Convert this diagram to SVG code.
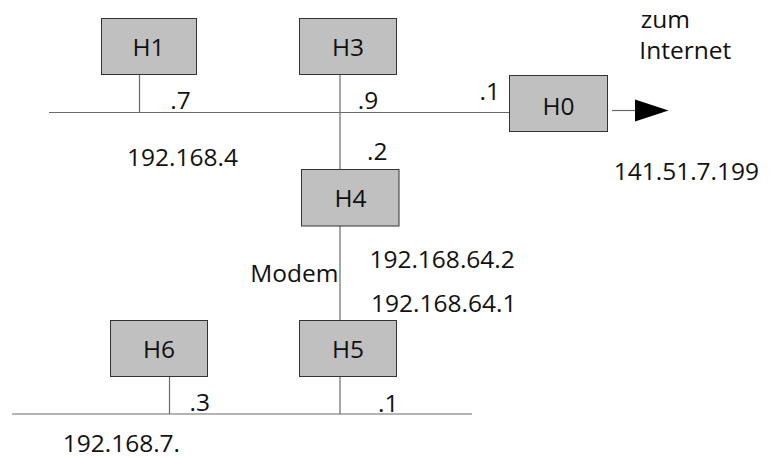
<svg xmlns="http://www.w3.org/2000/svg" width="775" height="459" viewBox="0 0 775 459">
<style>
.box{fill:#c0c0c0;stroke:#333;stroke-width:1}
.ln{stroke:#6a6a6a;stroke-width:1.2;fill:none}
text{font-family:"Open Sans","Noto Sans","Liberation Sans",sans-serif;font-size:24.5px;fill:#111}
.c{text-anchor:middle}
</style>
<rect width="775" height="459" fill="#fff"/>
<g id="connectors">
<line class="ln" x1="49" y1="112.5" x2="509.5" y2="112.5"/>
<line class="ln" x1="139.5" y1="74.5" x2="139.5" y2="112.5"/>
<line class="ln" x1="340" y1="74.5" x2="340" y2="169.5"/>
<line class="ln" x1="340" y1="226" x2="340" y2="320.5"/>
<line class="ln" x1="340" y1="376.5" x2="340" y2="414"/>
<line class="ln" x1="169.5" y1="376.5" x2="169.5" y2="414"/>
<line class="ln" x1="12" y1="414" x2="472" y2="414"/>
<line class="ln" x1="612" y1="110.5" x2="636" y2="110.5"/>
<polygon points="635,99.5 668.5,110.5 635,121.5" fill="#000"/>
</g>
<g id="H1"><rect class="box" x="101.5" y="18.5" width="95" height="56"/><text class="c" x="148.5" y="55.7">H1</text></g>
<g id="H3"><rect class="box" x="299.5" y="18.5" width="97" height="56"/><text class="c" x="348" y="55.7">H3</text></g>
<g id="H0"><rect class="box" x="509.5" y="75.5" width="98" height="56"/><text class="c" x="558.5" y="115">H0</text></g>
<g id="H4"><rect class="box" x="301.5" y="169.5" width="97.5" height="56.5"/><text class="c" x="350.5" y="206.7">H4</text></g>
<g id="H5"><rect class="box" x="299.5" y="320.5" width="97" height="56"/><text class="c" x="348" y="357.5">H5</text></g>
<g id="H6"><rect class="box" x="110.5" y="320.5" width="97" height="56"/><text class="c" x="159" y="358">H6</text></g>
<g id="labels">
<text x="170.3" y="108.5">.7</text>
<text x="357.8" y="108.5">.9</text>
<text x="479.5" y="100">.1</text>
<text x="367" y="160">.2</text>
<text x="189.5" y="410.5">.3</text>
<text x="378" y="411.5">.1</text>
<text x="127" y="166">192.168.4</text>
<text x="369.4" y="268.3">192.168.64.2</text>
<text x="371" y="311.7">192.168.64.1</text>
<text x="250.3" y="281.7">Modem</text>
<text x="62.7" y="452">192.168.7.</text>
<text x="613.7" y="180">141.51.7.199</text>
<text x="640.8" y="28">zum</text>
<text x="639.3" y="58.5">Internet</text>
</g>
</svg>
